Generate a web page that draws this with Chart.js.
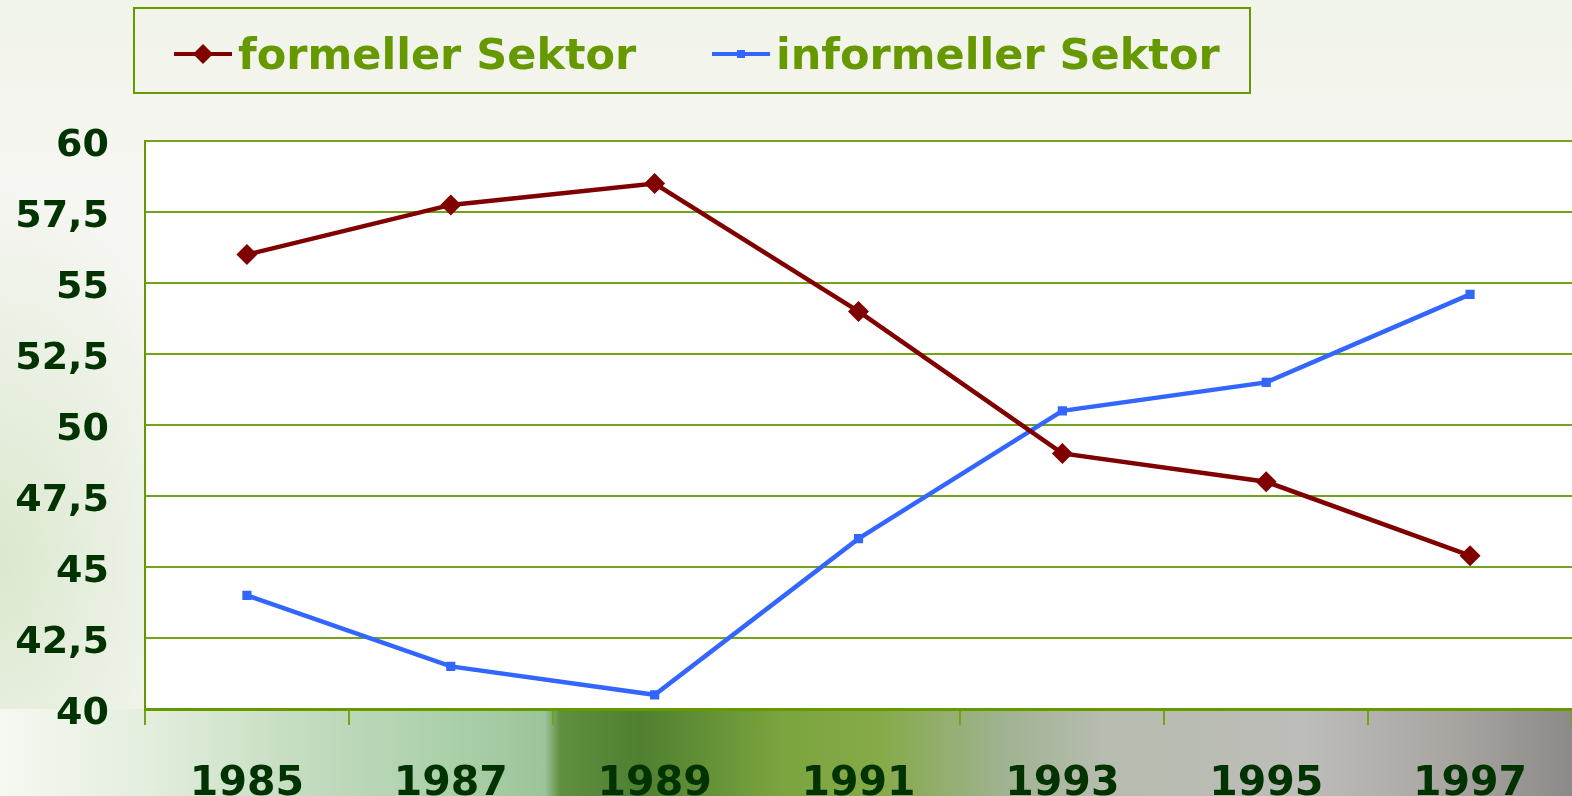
<!DOCTYPE html>
<html>
<head>
<meta charset="utf-8">
<script src="https://cdn.jsdelivr.net/npm/chart.js@4.4.1/dist/chart.umd.min.js"></script>
<style>
  html, body { margin: 0; padding: 0; }
  body {
    width: 1572px; height: 796px; overflow: hidden; position: relative;
    background:
      linear-gradient(90deg, #f6f8f2 0px, #e3eedd 150px, #c4dcc0 300px, #a9cfa8 460px, #9cc49a 545px, #5f8f40 560px, #4f7f30 640px, #7aa43e 780px, #86aa48 880px, #9fb290 1000px, #b6bcae 1100px, #bdbdb9 1300px, #a9a6a2 1450px, #8c8a88 1572px) 0 709px / 1572px 87px no-repeat,
      radial-gradient(ellipse 220px 380px at 0px 560px, #dbe8cf, rgba(240,244,235,0) 100%),
      linear-gradient(180deg, #f1f4ea 0px, #f6f6f2 200px, #f6f7f3 709px);
    font-family: "DejaVu Sans", sans-serif;
  }
  #wrap { position: absolute; left: 0; top: 0; width: 1572px; height: 796px; }
  #legend {
    position: absolute; left: 133px; top: 7px; width: 1114px; height: 83px;
    border: 2px solid #669900; box-sizing: content-box;
  }
  .item { position: absolute; top: 3px; height: 83px; display: flex; align-items: center; }
  .item span { font: bold 43px "DejaVu Sans", sans-serif; color: #669900; margin-left: 5px; }
</style>
</head>
<body>
<div id="wrap"><canvas id="chart"></canvas></div>
<div id="legend"></div>
<script>
const years = ['1985', '1987', '1989', '1991', '1993', '1995', '1997'];
const formellerSektor = [56, 57.75, 58.5, 54, 49, 48, 45.4];
const informellerSektor = [44, 41.5, 40.5, 46, 50.5, 51.5, 54.6];
const seriesNames = ['formeller Sektor', 'informeller Sektor'];
const yMin = 40, yMax = 60, yStep = 2.5;

const RED = '#800000';
const BLUE = '#3366ff';
const GRID = '#72a318';

// white plot area
const plotBg = {
    id: 'plotBg',
    beforeDraw(chart) {
        const a = chart.chartArea, ctx = chart.ctx;
        ctx.save();
        ctx.fillStyle = '#ffffff';
        ctx.fillRect(a.left, a.top, a.right - a.left, a.bottom - a.top);
        ctx.restore();
    }
};

const ctx = document.getElementById('chart');
const myChart = new Chart(ctx, {
    type: 'line',
    data: {
        labels: years,
        datasets: [{
            label: seriesNames[0],
            data: formellerSektor,
            borderColor: RED,
            backgroundColor: RED,
            borderWidth: 4.5,
            pointStyle: 'rectRot',
            pointRadius: 10.5,
            pointHoverRadius: 10.5,
            pointBorderWidth: 0
        }, {
            label: seriesNames[1],
            data: informellerSektor,
            borderColor: BLUE,
            backgroundColor: BLUE,
            borderWidth: 4.5,
            pointStyle: 'rect',
            pointRadius: 6.5,
            pointHoverRadius: 6.5,
            pointBorderWidth: 0
        }]
    },
    options: {
        responsive: true,
        maintainAspectRatio: false,
        animation: false,
        layout: { autoPadding: false, padding: { top: 141, right: 0, bottom: 0, left: 0 } },
        plugins: {
            legend: { display: false },
            tooltip: { enabled: false }
        },
        scales: {
            x: {
                offset: true,
                grid: {
                    offset: true,
                    drawOnChartArea: false,
                    drawTicks: true,
                    tickLength: 16,
                    color: GRID,
                    lineWidth: 2
                },
                border: { display: true, color: '#669900', width: 3 },
                ticks: {
                    color: '#003300',
                    font: { family: 'DejaVu Sans', size: 41, weight: 'bold', lineHeight: 1 },
                    padding: 39,
                    maxRotation: 0,
                    autoSkip: false
                },
                afterFit(scale) {
                    scale.height = 87;
                    scale.paddingLeft = 0;
                    scale.paddingRight = 0;
                }
            },
            y: {
                min: yMin,
                max: yMax,
                ticks: {
                    stepSize: yStep,
                    color: '#003300',
                    font: { family: 'DejaVu Sans', size: 38, weight: 'bold' },
                    padding: 36,
                    labelOffset: 5,
                    callback: v => String(v).replace('.', ',')
                },
                grid: { color: GRID, lineWidth: 2, drawTicks: false },
                border: { display: true, color: '#669900', width: 2 },
                afterFit(scale) {
                    scale.width = 145;
                    scale.paddingTop = 0;
                    scale.paddingBottom = 0;
                }
            }
        }
    },
    plugins: [plotBg]
});

// legend with border, built from the datasets
function marker(ds) {
    const c = document.createElement('canvas');
    c.width = 60; c.height = 24;
    const g = c.getContext('2d');
    g.strokeStyle = ds.borderColor;
    g.fillStyle = ds.borderColor;
    g.lineWidth = 4;
    g.beginPath(); g.moveTo(1, 12); g.lineTo(59, 12); g.stroke();
    if (ds.pointStyle === 'rectRot') {
        g.beginPath(); g.moveTo(30, 2); g.lineTo(40, 12); g.lineTo(30, 22); g.lineTo(20, 12); g.closePath(); g.fill();
    } else {
        g.fillRect(26, 8, 8, 8);
    }
    return c;
}
const legend = document.getElementById('legend');
const itemLeft = [38, 576];
myChart.data.datasets.forEach((ds, i) => {
    const it = document.createElement('div');
    it.className = 'item';
    it.style.left = itemLeft[i] + 'px';
    it.appendChild(marker(ds));
    const s = document.createElement('span');
    s.textContent = ds.label;
    it.appendChild(s);
    legend.appendChild(it);
});
</script>
</body>
</html>
